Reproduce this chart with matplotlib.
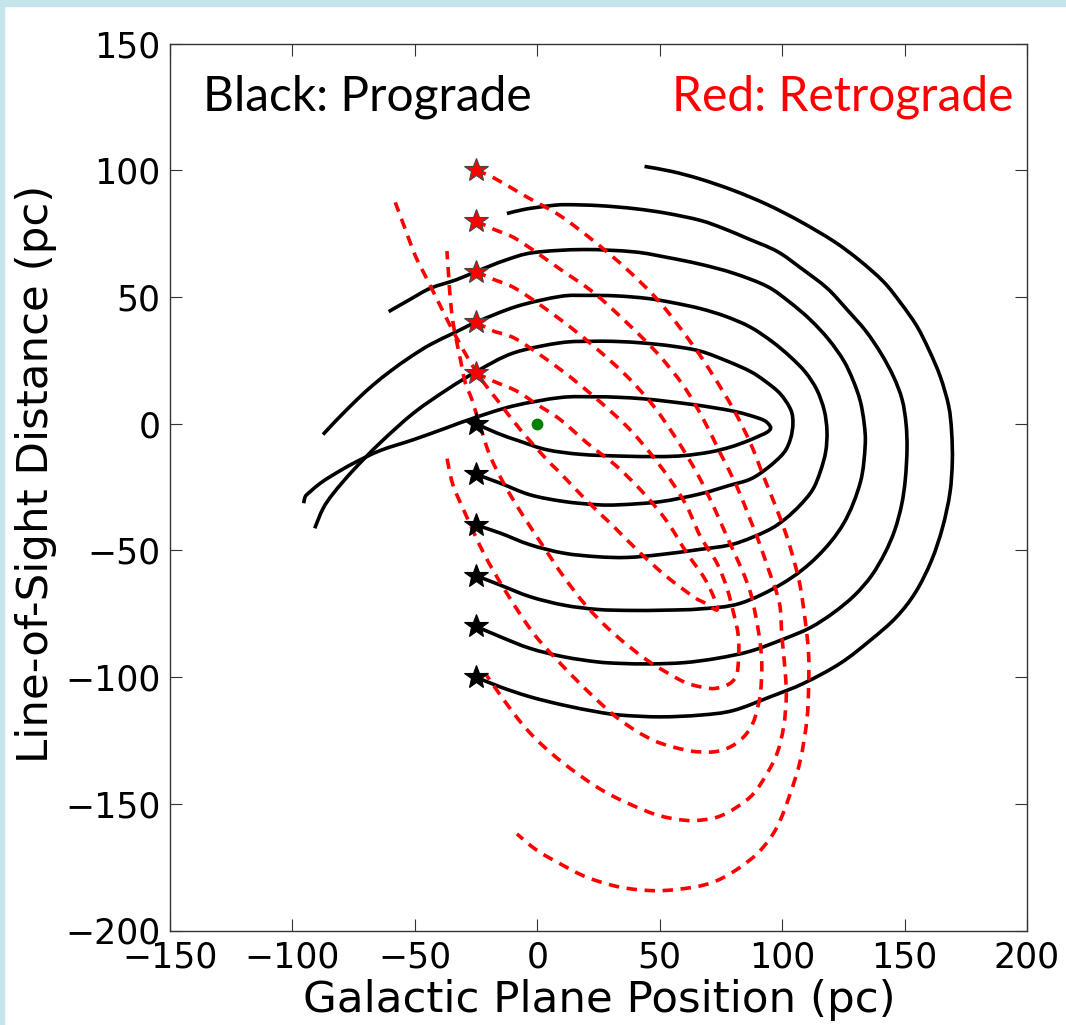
import numpy as np
import matplotlib
matplotlib.use("Agg")
import matplotlib.pyplot as plt
from matplotlib.patches import Rectangle, PathPatch
from matplotlib.path import Path

# start points (all orbits launched from x = -25 pc)
star_x = -25
prograde_star_y = [0, -20, -40, -60, -80, -100]
retrograde_star_y = [20, 40, 60, 80, 100]

# prograde orbits (black, solid)
pro_x = [
    [-25, -16.5, -6.9, 3.9, 17.6, 33.9, 50, 60, 70.6, 79, 86, 91, 94, 95.3, 94.5, 92.4, 87, 80.2, 72, 63.8,
     53, 43.4, 33, 23, 9.4, -9.7, -26, -36.9, -50.5, -64.1, -75, -83, -88.6, -92.7, -94.7, -95.4],
    [-25, -15.1, -2.9, 10.8, 24.4, 33.9, 50.2, 66.6, 78, 87.0, 94, 100.6, 103.4, 104.4, 103.5, 99.2, 93, 87.0,
     78, 66.6, 55, 43.4, 33, 23, 9.4, -9.7, -24.6, -36.9, -50.5, -64.1, -75, -83.2, -87.5, -90.9],
    [-25, -15.1, -2.9, 10.8, 24.4, 36.6, 50, 66.6, 80.2, 93.8, 101, 107.4, 112.5, 115.6, 117.8, 118.3, 117.2,
     114.2, 109.5, 103.3, 96, 87.0, 77, 66.6, 55, 45, 32.5, 20, 9.4, -8.3, -25, -34, -43.7, -52, -60.0, -67,
     -73.6, -81.8, -87.5],
    [-25, -15.1, -2.9, 10.8, 24.4, 38, 52, 66.6, 82.9, 100.6, 114.2, 125.1, 131.9, 133.9, 133.5, 131.9, 129,
     125.1, 119, 111.5, 103, 93.8, 80, 66.6, 53, 39.3, 18.9, -1.5, -13, -25, -33, -43.7, -52, -60.7],
    [-25, -15.1, -2.9, 10.8, 24.4, 33.9, 46.1, 60, 73.4, 87, 100.6, 111.5, 121.0, 129.5, 136.5, 142, 146.0,
     148.8, 150.3, 151.0, 150.6, 149, 145.5, 140.5, 134.2, 126.5, 118.3, 107.5, 97.9, 86, 76.1, 66.6, 52.9,
     40, 25.7, 12, 5.3, -5, -12.4],
    [-25, -15.1, -2.9, 10.8, 24.4, 33.9, 50.2, 66.6, 80, 95.1, 108.7, 123.7, 136, 146.5, 154.5, 161, 165.5,
     168.5, 169.5, 169.2, 168, 164.6, 160, 155.0, 148.5, 141.4, 131.5, 121.0, 107, 93.8, 80.2, 66.6, 55, 43.8],
]
pro_y = [
    [0, -3.7, -7.0, -10.3, -12.1, -12.8, -13.0, -12.6, -11.2, -9.2, -6.8, -4.7, -3.3, -1.8, -0.2, 1.4, 3.2,
     4.9, 6.3, 7.5, 8.8, 9.8, 10.4, 10.6, 10.3, 7.0, 2.2, -1.6, -6.3, -10.6, -15.6, -20.0, -23.5, -26.8,
     -28.7, -31.4],
    [-20, -23.5, -28.1, -30.7, -32.0, -32.0, -30.8, -27.7, -24.5, -21.9, -17.5, -11.6, -6, 0.1, 5.5, 11.8,
     16.8, 20.6, 24.5, 28.6, 30.6, 31.8, 32.4, 32.5, 31.9, 27.9, 20.7, 13.4, 4.2, -7.5, -18.2, -27.4, -33.5,
     -41.3],
    [-40, -43.2, -47.8, -51.1, -52.5, -52.8, -51.7, -49.6, -47.5, -42.3, -37.8, -32.1, -26.0, -18.9, -11,
     -2.9, 5.2, 13.3, 20.3, 26.4, 32.3, 38.1, 42.3, 45.4, 47.8, 49.4, 50.4, 50.6, 50.2, 46.3, 40, 35.8, 31.2,
     26.2, 20.7, 15.3, 9.5, 1.6, -4.3],
    [-60, -63.7, -68.3, -71.6, -73.3, -73.7, -73.6, -73.1, -70.9, -62.8, -52.6, -39.4, -23.3, -8.7, 0, 8.9,
     17, 24.9, 33.2, 41.0, 48.0, 54.2, 59.4, 62.9, 65.6, 67.8, 68.7, 67.5, 64.5, 60, 56.8, 53.4, 49.0, 44.2],
    [-80, -84.1, -88.7, -92.0, -94.0, -94.6, -94.8, -94.3, -92.6, -89.8, -85.0, -80.5, -74.6, -67.8, -60.0,
     -51, -42.0, -32, -22.0, -10, 0, 9.5, 18.5, 27.5, 36.5, 45, 53.5, 61.5, 68.0, 73, 77.0, 80.2, 83.0,
     84.8, 86.0, 86.4, 86.0, 84.6, 82.9],
    [-100, -103.9, -107.8, -111.1, -113.7, -115.0, -115.7, -115.0, -113.2, -107.8, -102.5, -94.6, -85.5,
     -76.5, -66.5, -54, -41, -27.5, -15, -3, 7, 18.5, 29, 38.5, 47.5, 56, 64.5, 72.0, 80, 86.5, 92.0, 96.5,
     99.5, 101.5],
]

# retrograde orbits (red, dashed)
retro_x = [
    [-25, -17.8, -8.3, 0, 9.4, 20.3, 32.5, 43.4, 52.9, 61.1, 67.9, 72.0, 73.4, 68.5, 63.8, 52.9, 42.1, 31.2,
     20.3, 9.4, 3.9, -6.9, -16.5, -22.5, -28.0, -31.4, -34.8, -38.9, -42.3, -46.4, -49.8, -53.9, -58.0],
    [-25, -17.8, -8.3, 9.4, 23.0, 36.6, 46.1, 54.3, 61.1, 66.6, 73.4, 77.5, 80.2, 82.0, 82.3, 81.6, 79.8,
     77.4, 74.2, 70.6, 63.8, 58.4, 44.8, 31.2, 20.3, 10.8, 2.5, -6.0, -13.0, -19.2, -23.3, -26.7, -29.4,
     -31.4, -33.1, -34.4, -35.5, -36.2, -36.9],
    [-25, -17.8, -8.3, 9.4, 23.0, 36.6, 47.5, 57.0, 65.2, 72.0, 77.4, 83.6, 87, 89.0, 90.8, 91.7, 91.1, 89.0,
     86.9, 84.3, 81, 77.4, 73.5, 69.3, 61.1, 47.5, 33.9, 21.6, 9.4, -1.5, -12.4, -21.9, -30.1, -34.5, -36.9],
    [-25, -17.8, -8.3, 9.4, 23.0, 36.6, 48.9, 59.8, 67.9, 74.7, 81.5, 87.0, 89.7, 94.5, 98.9, 99.9, 101.2,
     101.7, 100.6, 97.9, 93.8, 88.3, 81.5, 73.4, 63.8, 55, 44.8, 27.1, 9.4, -3.5, -13.7, -21.2],
    [-25, -17.8, -4.2, 9.4, 23.0, 36.6, 50.2, 63.8, 72.0, 80.2, 87.0, 92.4, 97.9, 101.9, 105.1, 107.4, 109.4,
     110.8, 110.8, 110.1, 107.4, 103.3, 97.9, 91.1, 82.9, 73.4, 63.8, 48.9, 33.9, 20.3, 9.4, -0.1, -8.3],
]
retro_y = [
    [20, 16.7, 12.8, 7.5, 1.6, -7.6, -16.9, -27.4, -38.5, -51.1, -60.4, -68.3, -73.5, -70.8, -68.3, -60.4,
     -51.1, -40.6, -30.5, -19.5, -14.2, -2.4, 9.5, 17, 25.3, 31.2, 37.2, 45.1, 51.7, 59.6, 66.2, 76.7, 87.3],
    [40, 36.5, 33.2, 21.4, 10.8, -1.1, -11.6, -22.1, -32.7, -44.5, -55.1, -65, -74.9, -83, -90.7, -98.6,
     -101.6, -103.2, -104.2, -104.5, -103.2, -101.2, -93.3, -82.8, -72.2, -60.4, -48.5, -36.0, -24.8, -12.9,
     -1.1, 9.5, 16.1, 25.3, 33.2, 39.8, 49.0, 58.3, 68.1],
    [60, 56.9, 53.0, 41.1, 30.6, 18.7, 6.9, -6.3, -19.5, -32.7, -44.5, -57.7, -66.5, -74.9, -85, -94.6,
     -106.5, -115.7, -120.3, -123.6, -126.3, -128.2, -129.3, -129.6, -128.9, -125.0, -117.0, -106.5, -94.6,
     -82.8, -67.0, -51.1, -34.0, -24, -13.6],
    [80, 76.7, 72.7, 60.9, 51.7, 39.8, 27.9, 14.8, 1.6, -11.6, -24.8, -38.0, -44.5, -57.7, -70.9, -84.1,
     -97.3, -107.8, -119.7, -130.2, -138.1, -146.0, -151.3, -155.3, -156.6, -155.8, -153.0, -145.0, -133.0,
     -121.5, -109.0, -98.6],
    [100, 97.0, 89.4, 82.0, 72.1, 60.9, 47.7, 30.6, 18.7, 5.5, -7.6, -20.8, -34.0, -44.5, -55.0, -64.3,
     -77.5, -90.7, -103.9, -117.0, -132.9, -146.0, -159.2, -168.4, -175.0, -180.3, -182.9, -184.3, -182.9,
     -179.0, -173.7, -168.4, -161.9],
]

center = (0, 0)


def orbit_path(xs, ys):
    # smooth curve through the read points (Catmull-Rom drawn as cubic Bezier)
    pts = np.column_stack([xs, ys]).astype(float)
    n = len(pts)
    verts = [pts[0]]
    codes = [Path.MOVETO]
    for i in range(n - 1):
        p0 = pts[max(i - 1, 0)]
        p1 = pts[i]
        p2 = pts[i + 1]
        p3 = pts[min(i + 2, n - 1)]
        verts += [p1 + (p2 - p0) / 6, p2 - (p3 - p1) / 6, p2]
        codes += [Path.CURVE4] * 3
    return Path(verts, codes)


plt.rcParams['lines.scale_dashes'] = False
plt.rcParams['font.family'] = 'DejaVu Sans'

fig = plt.figure(figsize=(10.66, 10.25), dpi=100)
fig.patches.append(Rectangle((0, 1 - 6 / 1025), 1, 6 / 1025, transform=fig.transFigure,
                             color='#c6e4ec', zorder=-10))
fig.patches.append(Rectangle((0, 0), 3.5 / 1066, 1, transform=fig.transFigure,
                             color='#c6e4ec', zorder=-10))

ax = fig.add_axes([170 / 1066, 1 - 930.5 / 1025, 857 / 1066, 887 / 1025])

for xs, ys in zip(pro_x, pro_y):
    ax.add_patch(PathPatch(orbit_path(xs, ys), fill=False, edgecolor='black', lw=2.6,
                           capstyle='butt', zorder=2))
for xs, ys in zip(retro_x, retro_y):
    ax.add_patch(PathPatch(orbit_path(xs, ys), fill=False, edgecolor='red', lw=2.6,
                           linestyle=(0, (7.5, 5.5)), zorder=3))

ax.plot([star_x] * len(prograde_star_y), prograde_star_y, linestyle='none', marker='*',
        ms=18, mfc='black', mec='black', mew=0.8, zorder=5)
ax.plot([star_x] * len(retrograde_star_y), retrograde_star_y, linestyle='none', marker='*',
        ms=18, mfc='red', mec='#444444', mew=0.8, zorder=5)
ax.plot(*center, linestyle='none', marker='o', ms=7.5, color='green', zorder=5)

ax.set_xlim(-150, 200)
ax.set_ylim(-200, 150)
ax.set_xticks(range(-150, 201, 50))
ax.set_yticks(range(-200, 151, 50))
ax.tick_params(direction='in', length=8.5, width=0.8, labelsize=25, pad=7,
               top=True, right=True, color='#333333')
for s in ax.spines.values():
    s.set_linewidth(1.0)
    s.set_color('#333333')

fig.text(599 / 1066, 1 - 1000 / 1025, 'Galactic Plane Position (pc)', ha='center', va='center',
         fontsize=31.3)
fig.text(36 / 1066, 1 - 474 / 1025, 'Line-of-Sight Distance (pc)', ha='center', va='center',
         fontsize=31.3, rotation=90)

fig.text(203 / 1066, 1 - 97 / 1025, 'Black: Prograde', ha='left', va='center',
         fontsize=34.5, family=['Lato', 'DejaVu Sans'], color='black')
fig.text(1013 / 1066, 1 - 97 / 1025, 'Red: Retrograde', ha='right', va='center',
         fontsize=34.5, family=['Lato', 'DejaVu Sans'], color='red')

fig.savefig('out.png', dpi=100)
